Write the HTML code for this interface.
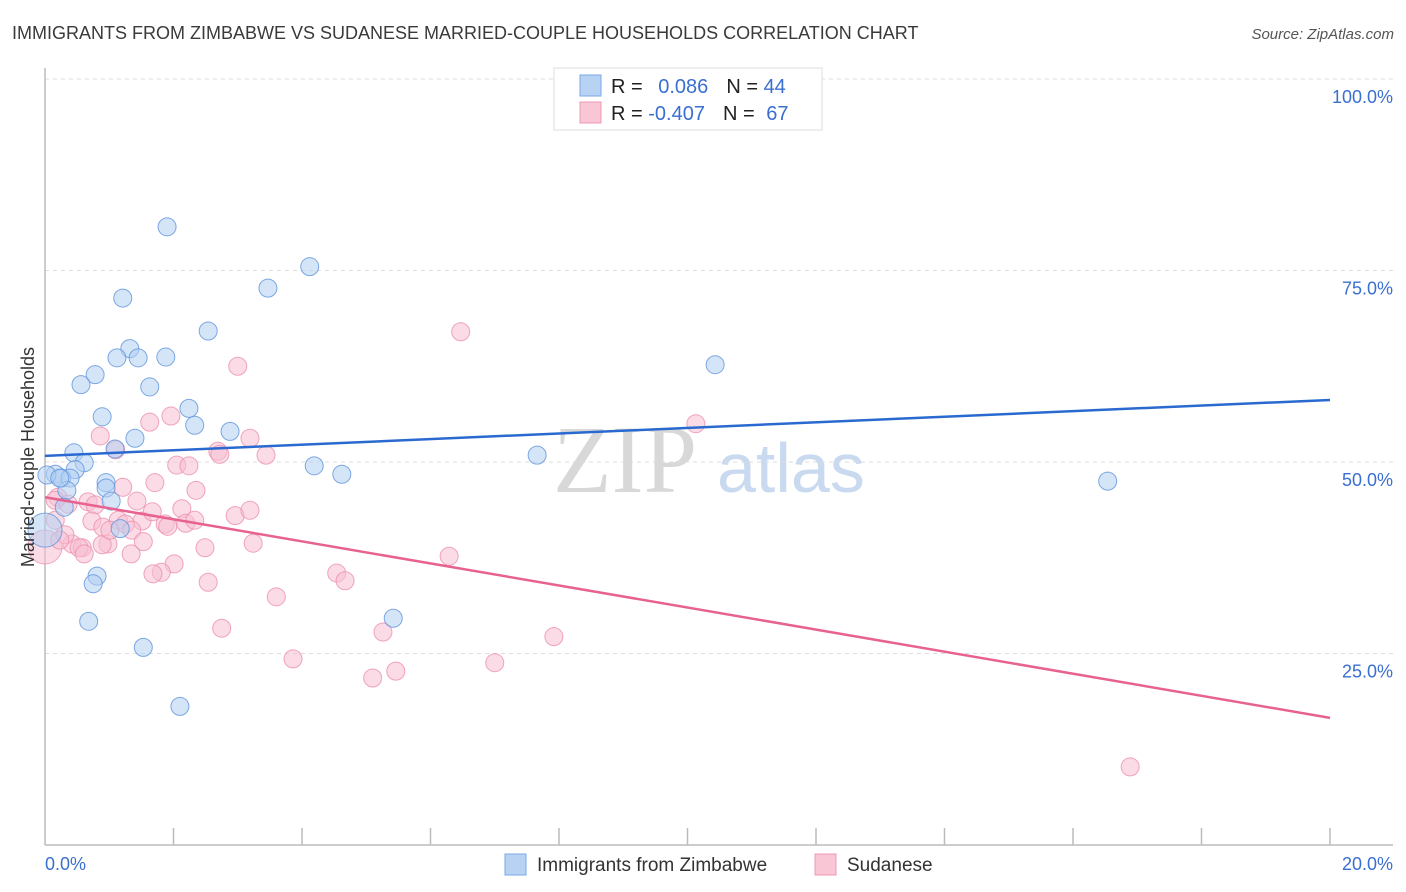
<!DOCTYPE html>
<html><head><meta charset="utf-8"><style>
body{margin:0;background:#fff;font-family:"Liberation Sans",sans-serif;}
svg{display:block}
</style></head><body>
<svg id="chart" width="1406" height="892" xmlns="http://www.w3.org/2000/svg">
<text x="12" y="39" font-size="18" fill="#3a3a3a">IMMIGRANTS FROM ZIMBABWE VS SUDANESE MARRIED-COUPLE HOUSEHOLDS CORRELATION CHART</text>
<text x="1394" y="39" font-size="15" fill="#555" text-anchor="end" font-style="italic">Source: ZipAtlas.com</text>
<g><text x="553" y="492" font-size="96" fill="#d8d8d8" font-family="Liberation Serif">ZIP</text><text x="717" y="492" font-size="70" fill="#c9d9f0">atlas</text></g>
<g id="grid"></g><g id="axes"></g><g id="pts"></g><g id="trend"></g>
<text transform="translate(34,457) rotate(-90)" font-size="18" fill="#333" text-anchor="middle">Married-couple Households</text>
<g>
<rect x="554" y="68" width="268" height="62" fill="#fff" stroke="#ddd"/>
<rect x="580" y="75" width="21" height="21" fill="#b8d2f4" stroke="#7aa8e6"/>
<rect x="580" y="102" width="21" height="21" fill="#f8c6d5" stroke="#ee9ab3"/>
<text x="611" y="93" font-size="20" fill="#222">R = <tspan fill="#3a6fd0" dx="10">0.086</tspan><tspan fill="#222" dx="18">N = </tspan><tspan fill="#3a6fd0">44</tspan></text>
<text x="611" y="120" font-size="20" fill="#222">R = <tspan fill="#3a6fd0">-0.407</tspan><tspan fill="#222" dx="18">N = </tspan><tspan fill="#3a6fd0" dx="6">67</tspan></text>
</g>
<g>
<rect x="505" y="854" width="21" height="21" fill="#b8d2f4" stroke="#7aa8e6"/>
<text x="537" y="871" font-size="19" fill="#333">Immigrants from Zimbabwe</text>
<rect x="815" y="854" width="21" height="21" fill="#f8c6d5" stroke="#ee9ab3"/>
<text x="847" y="871" font-size="19" fill="#333">Sudanese</text>
</g>
</svg>
<script>
const blueX=[1.90,4.12,3.47,1.21,2.54,1.32,1.12,1.45,1.88,10.43,0.78,0.56,1.63,2.24,0.89,2.33,2.88,1.40,1.09,0.45,7.66,4.19,0.61,4.62,0.47,16.54,0.16,0.26,0.03,0.39,0.95,0.95,0.34,1.03,0.30,1.17,0.81,0.75,0.68,5.42,1.53,2.10,0.0,0.23];
const blueY=[80.7,75.5,72.7,71.4,67.1,64.8,63.6,63.6,63.7,62.7,61.4,60.1,59.8,57.0,55.9,54.8,54.0,53.1,51.7,51.2,50.9,49.5,49.9,48.4,49.0,47.5,48.4,47.9,48.3,47.9,47.3,46.6,46.3,44.9,44.1,41.3,35.1,34.1,29.2,29.6,25.8,18.1,41.1,47.9];
const blueBig=[42];
const pinkX=[6.47,3.00,10.13,1.63,1.96,0.86,1.10,3.19,2.69,2.72,3.44,2.05,2.24,2.35,1.71,1.21,0.20,0.16,0.36,0.67,0.78,1.43,2.13,2.96,0.73,1.14,1.51,1.25,0.90,1.87,1.91,2.19,1.35,1.67,1.53,3.24,0.98,0.42,0.58,0.89,0.53,0.61,1.34,2.49,6.29,2.01,1.81,1.68,4.54,4.67,2.54,3.60,2.75,5.26,7.92,3.86,7.00,5.46,5.10,16.89,0.0,0.16,0.31,1.01,2.33,0.23,3.19];
const pinkY=[67.0,62.5,55.0,55.2,56.0,53.4,51.6,53.1,51.4,51.0,50.9,49.6,49.5,46.3,47.3,46.7,45.4,45.0,44.5,44.8,44.4,44.9,43.9,43.0,42.3,42.4,42.3,41.9,41.5,41.9,41.6,42.0,41.1,43.5,39.6,39.4,39.3,39.3,38.8,39.2,38.8,38.0,38.0,38.8,37.7,36.7,35.6,35.4,35.5,34.5,34.3,32.4,28.3,27.8,27.2,24.3,23.8,22.7,21.8,10.2,38.9,42.4,40.5,41.1,42.4,39.8,43.7];
const pinkBig=[60];
const blueTrend=[50.8,58.1];
const pinkTrend=[45.4,16.6];
const yTicks=[100,75,50,25];
const xTickCount=10;
const NS="http://www.w3.org/2000/svg";
const X0=45,X1=1330,Y0=845,Y100=79;
const sx=v=>X0+(v/20)*(X1-X0);
const sy=v=>Y0-(v/100)*(Y0-Y100);
function mk(tag,attrs,parent){const e=document.createElementNS(NS,tag);for(const k in attrs)e.setAttribute(k,attrs[k]);parent.appendChild(e);return e;}
const grid=document.getElementById('grid'),axes=document.getElementById('axes'),pts=document.getElementById('pts'),trend=document.getElementById('trend');
yTicks.forEach(t=>{
  const l=mk('line',{x1:X0,x2:1393,y1:sy(t),y2:sy(t),stroke:'#ddd','stroke-dasharray':'4,4'},grid);
  
  
  const tx=mk('text',{x:1393,y:sy(t)+24,'font-size':18,fill:'#3a6fd0','text-anchor':'end'},axes);
  tx.textContent=t.toFixed(1)+'%';
  
  
});
const ya=mk('line',{x1:X0,x2:X0,y1:68,y2:Y0,stroke:'#bbb','stroke-width':1.5},axes);


const xa=mk('line',{x1:X0,x2:1393,y1:Y0,y2:Y0,stroke:'#bbb','stroke-width':1.5},axes);


for(let i=1;i<=xTickCount;i++){
  const x=sx(i*20/xTickCount);
  const t=mk('line',{x1:x,x2:x,y1:828,y2:Y0,stroke:'#bbb','stroke-width':1.5},axes);
  
  
}
const xl0=mk('text',{x:45,y:870,'font-size':18,fill:'#3a6fd0'},axes);xl0.textContent='0.0%';


const xl1=mk('text',{x:1393,y:870,'font-size':18,fill:'#3a6fd0','text-anchor':'end'},axes);xl1.textContent='20.0%';


function drawSeries(xs,ys,big,fill,stroke,name){
  xs.forEach((v,i)=>{
    const c=mk('circle',{cx:sx(v),cy:sy(ys[i]),r:big.includes(i)?17:9,fill:fill,'fill-opacity':0.55,stroke:stroke,'stroke-opacity':0.8,'stroke-width':1},pts);
    
    
  });
}
drawSeries(pinkX,pinkY,pinkBig,'#f8c0d2','#ec8fac','point-sudanese');
drawSeries(blueX,blueY,blueBig,'#b3cff3','#5f93dc','point-zimbabwe');
const bt=mk('line',{x1:sx(0),y1:sy(blueTrend[0]),x2:sx(20),y2:sy(blueTrend[1]),stroke:'#2a6ad0','stroke-width':2.5},trend);


const pt=mk('line',{x1:sx(0),y1:sy(pinkTrend[0]),x2:sx(20),y2:sy(pinkTrend[1]),stroke:'#e8628f','stroke-width':2.5},trend);


</script>
</body></html>
